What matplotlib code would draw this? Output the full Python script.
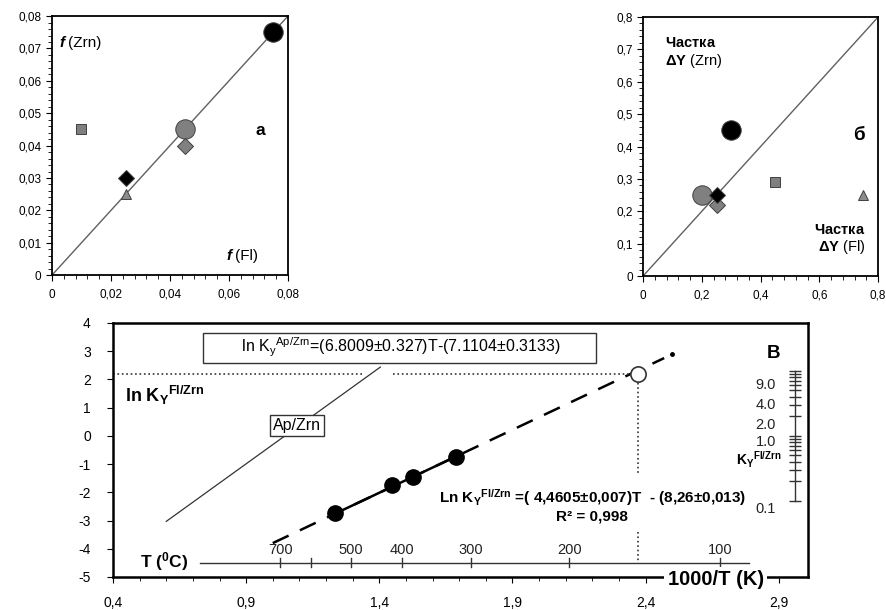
import numpy as np
import matplotlib
matplotlib.use('Agg')
import matplotlib.pyplot as plt
from matplotlib.ticker import MultipleLocator, FixedLocator, FuncFormatter

plt.rcParams['font.family'] = ['Liberation Sans', 'DejaVu Sans']
plt.rcParams['mathtext.fontset'] = 'custom'
plt.rcParams['mathtext.rm'] = 'Liberation Sans'
plt.rcParams['mathtext.it'] = 'Liberation Sans:italic'
plt.rcParams['mathtext.bf'] = 'Liberation Sans:bold'
plt.rcParams['axes.unicode_minus'] = False

# --- данные ---
# порядок: чорне коло, сіре коло, сірий ромб, чорний ромб, сірий трикутник, сірий квадрат
a_fl = [0.075, 0.045, 0.045, 0.025, 0.025, 0.010]
a_zrn = [0.075, 0.045, 0.040, 0.030, 0.025, 0.045]
b_fl = [0.30, 0.20, 0.25, 0.25, 0.75, 0.45]
b_zrn = [0.45, 0.25, 0.22, 0.25, 0.25, 0.29]

# панель в
fl_x = [1.235, 1.449, 1.528, 1.689]
fl_y = [-2.74, -1.74, -1.46, -0.75]
open_x, open_y = 2.37, 2.2
fit_slope, fit_icpt = 4.4605, -8.26
fit_range = [1.0, 2.47]
ap_slope, ap_icpt = 6.8009, -7.1104
ap_range = [0.6, 1.404]
t_celsius = [700, 600, 500, 400, 300, 200, 100]
t_labels = ['700', '', '500', '400', '300', '200', '100']
k_ticks = [0.1, 0.2, 0.3, 0.4, 0.5, 0.6, 0.7, 0.8, 0.9,
           1, 2, 3, 4, 5, 6, 7, 8, 9, 10]
k_labels = ['9.0', '4.0', '2.0', '1.0', '0.1']
k_label_y = [1.8, 1.1, 0.38, -0.22, -2.6]
vx_ticks = [0.4, 0.9, 1.4, 1.9, 2.4, 2.9]
vy_ticks = [4, 3, 2, 1, 0, -1, -2, -3, -4, -5]

styles = [('o', 14, 'black'), ('o', 14, '#808080'), ('D', 8.5, '#808080'),
          ('D', 8.5, 'black'), ('^', 7, '#8c8c8c'), ('s', 6.5, '#808080')]
draw_order = [1, 4, 2, 5, 3, 0]

comma = FuncFormatter(lambda v, p: ('%g' % round(v, 4)).replace('.', ','))

fig = plt.figure(figsize=(8.87, 6.10), dpi=100)
ax_a = fig.add_axes([0.0586, 0.549, 0.266, 0.4246])
ax_b = fig.add_axes([0.725, 0.5475, 0.265, 0.4246])
ax_v = fig.add_axes([0.1274, 0.0541, 0.7835, 0.4164])


def scatter_panel(ax, xs, ys, lim, major):
    ax.plot([0, lim], [0, lim], color='#606060', lw=1.0, zorder=1)
    for i in draw_order:
        m, s, c = styles[i]
        ax.plot(xs[i], ys[i], marker=m, ms=s, color=c, mec='#404040',
                mew=0.7, ls='none', zorder=3)
    ax.set_xlim(0, lim)
    ax.set_ylim(0, lim)
    ax.xaxis.set_major_locator(MultipleLocator(major * 2))
    ax.xaxis.set_minor_locator(MultipleLocator(major * 2 / 5))
    ax.yaxis.set_major_locator(MultipleLocator(major))
    ax.yaxis.set_minor_locator(MultipleLocator(major / 5))
    ax.xaxis.set_major_formatter(comma)
    ax.yaxis.set_major_formatter(comma)
    ax.tick_params(which='both', direction='out', labelsize=8.5, colors='black')
    ax.tick_params(which='major', length=4)
    ax.tick_params(which='minor', length=3)
    ax.tick_params(axis='x', pad=6)
    for sp in ax.spines.values():
        sp.set_linewidth(1.3)


scatter_panel(ax_a, a_fl, a_zrn, 0.08, 0.01)
scatter_panel(ax_b, b_fl, b_zrn, 0.8, 0.1)

ax_a.text(0.0027, 0.0717, 'f', fontsize=11, fontweight='bold', fontstyle='italic', va='center')
ax_a.text(0.0055, 0.0717, '(Zrn)', fontsize=11, va='center')
ax_a.text(0.0593, 0.0059, 'f', fontsize=11, fontweight='bold', fontstyle='italic', va='center')
ax_a.text(0.0621, 0.0059, '(Fl)', fontsize=11, va='center')
ax_a.text(0.069, 0.0448, 'а', fontsize=12.5, fontweight='bold', va='center')

ax_b.text(0.075, 0.74, r'$\mathbf{Частка}$' + '\n' + r'$\mathbf{ΔY}$ (Zrn)',
          fontsize=10.5, va='top', ha='left', linespacing=1.1)
ax_b.text(0.757, 0.165, r'$\mathbf{Частка}$' + '\n' + r'$\mathbf{ΔY}$ (Fl)',
          fontsize=10.5, va='top', ha='right', multialignment='right', linespacing=1.1)
ax_b.text(0.715, 0.435, 'б', fontsize=13.5, fontweight='bold', va='center')

# --- панель в ---
ax = ax_v
ax.set_xlim(0.4, 3.01)
ax.set_ylim(-5, 4)
ax.xaxis.set_major_locator(FixedLocator(vx_ticks))
ax.xaxis.set_minor_locator(FixedLocator(np.arange(0.4, 3.0, 0.1)))
ax.yaxis.set_major_locator(FixedLocator(vy_ticks))
ax.xaxis.set_major_formatter(comma)
ax.tick_params(which='both', direction='out', labelsize=10, colors='black')
ax.tick_params(which='major', length=4)
ax.tick_params(which='minor', length=3)
ax.tick_params(axis='x', pad=10)
ax.tick_params(axis='y', pad=12)
for sp in ax.spines.values():
    sp.set_linewidth(1.8)

# лінія Ap/Zrn
ap_x = np.array(ap_range)
ax.plot(ap_x, ap_slope * ap_x + ap_icpt, color='#333333', lw=0.9)

# регресія Fl/Zrn
fx = np.array(fit_range)
ax.plot(fx, fit_slope * fx + fit_icpt, color='black', lw=1.8, dashes=(7, 5))
sx = np.array([fl_x[0], fl_x[-1]])
ax.plot(sx, fit_slope * sx + fit_icpt, color='black', lw=1.8)
ax.plot(2.5, fit_slope * 2.5 + fit_icpt, marker='o', ms=2.5, color='black')
ax.plot(fl_x, fl_y, 'o', ms=11, color='black', zorder=4)
ax.plot(open_x, open_y, 'o', ms=11, mfc='white', mec='#333333', mew=1.2, zorder=5)

# пунктирні лінії
ax.plot([0.4, 1.34], [open_y, open_y], ls=':', color='#333333', lw=1.2)
ax.plot([1.45, open_x], [open_y, open_y], ls=':', color='#333333', lw=1.2)
ax.plot([open_x, open_x], [open_y, -1.4], ls=':', color='#333333', lw=1.2)
ax.plot([open_x, open_x], [-3.4, -4.49], ls=':', color='#333333', lw=1.2)

# шкала температур
t_pos = [1000 / (t + 273.15) for t in t_celsius]
ax.plot([0.727, 2.787], [-4.49, -4.49], color='#333333', lw=1.0)
for p, lab in zip(t_pos, t_labels):
    ax.plot([p, p], [-4.65, -4.33], color='#333333', lw=1.0)
    if lab:
        ax.text(p, -4.3, lab, ha='center', va='bottom', fontsize=10.5, color='#222222')
ax.text(0.5, -4.45, r'$\mathbf{T\ (^{0}C)}$', fontsize=12.5, va='center', ha='left')

# шкала K
k_ln = np.log(k_ticks)
ax.plot([2.96, 2.96], [k_ln.min(), k_ln.max()], color='#333333', lw=1.0)
ax.plot([2.96] * len(k_ln), k_ln, ls='none', marker='_', ms=9, mew=1.0, color='#333333')
for lab, yy in zip(k_labels, k_label_y):
    ax.text(2.89, yy, lab, ha='right', va='center', fontsize=10.5, color='#222222')
ax.text(2.91, -0.85, r'$\mathbf{K_{Y}{}^{Fl/Zrn}}$', ha='right', va='center', fontsize=10)
ax.text(2.88, 2.93, 'В', fontsize=13.5, fontweight='bold', ha='center', va='center')

# підписи
ax.text(1.475, 3.12, r'        ln K$_\mathrm{y}{}^\mathrm{Ap/Zrn}$=(6.8009±0.327)T-(7.1104±0.3133)        ',
        ha='center', va='center', fontsize=11.5,
        bbox=dict(boxstyle='square,pad=0.2', fc='white', ec='#333333', lw=1.0))
ax.text(1.09, 0.36, 'Ap/Zrn', ha='center', va='center', fontsize=11.5,
        bbox=dict(boxstyle='square,pad=0.2', fc='white', ec='#333333', lw=1.0))
ax.text(0.445, 1.43, r'$\mathbf{ln\ K_{Y}{}^{Fl/Zrn}}$', fontsize=13, ha='left', va='center')
ax.text(2.2, -2.2, r'$\mathbf{Ln\ K_{Y}{}^{Fl/Zrn}}$' + ' =( 4,4605±0,007)T  - (8,26±0,013)',
        ha='center', va='center', fontsize=11, fontweight='bold')
ax.text(2.2, -2.85, 'R² = 0,998', ha='center', va='center', fontsize=11, fontweight='bold')
ax.text(2.663, -5.08, '1000/T (K)', ha='center', va='center', fontsize=14.5, fontweight='bold',
        bbox=dict(boxstyle='square,pad=0.15', fc='white', ec='none'), clip_on=False, zorder=5)

fig.savefig('out.png', dpi=100)
